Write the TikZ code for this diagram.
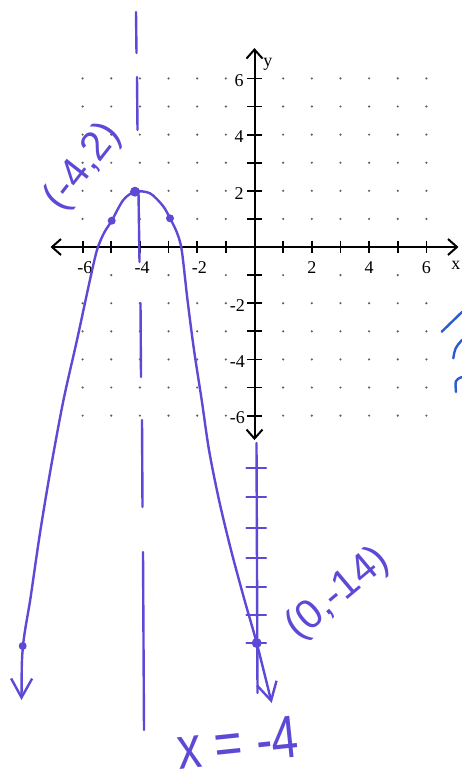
\documentclass[tikz,border=0pt]{standalone}
\usepackage{fontspec}
\setmainfont{Liberation Serif}
\newfontfamily\handfont{Liberation Sans}
\usetikzlibrary{arrows.meta}
\definecolor{pen}{RGB}{92,74,214}
\definecolor{pentwo}{RGB}{45,90,210}
\definecolor{dotgray}{RGB}{95,95,95}
\begin{document}
\begin{tikzpicture}[x=1pt,y=-1pt,
  axisline/.style={line width=2pt, black, {Straight Barb[length=9pt,width=16pt]}-{Straight Barb[length=9pt,width=16pt]}},
  tickline/.style={line width=1.8pt, black},
  griddot/.style={fill=dotgray},
  numlabel/.style={font=\fontsize{18}{18}\selectfont, inner sep=0pt},
  handline/.style={pen, line width=2.4pt, line cap=round},
  handtext/.style={pen, font=\handfont\fontsize{41}{41}\selectfont, inner sep=0pt},
  handdot/.style={fill=pen}]
\useasboundingbox (0,0) rectangle (462,782);
\fill[white] (0,0) rectangle (462,782);

% ---------- printed graph ----------
\begin{scope}[shift={(254.5,247)}, x=28.65pt, y=28.1pt]
  % dots
  \foreach \i in {-6,-5,-4,-3,-2,-1,1,2,3,4,5,6}
    \foreach \j in {-6,-5,-4,-3,-2,1,2,3,4,5,6}
      \fill[griddot] (\i,\j) circle[radius=1.2pt];
  \foreach \i in {-5,-3,-1,1,3,5}
    \fill[griddot] (\i,-1) circle[radius=1.2pt];
  % axes
  \coordinate (xl) at (-7.12,0);
  \coordinate (xr) at (7.12,0);
  \coordinate (yb) at (0,-6.87);
  \coordinate (yt) at (0,7.08);
  \draw[axisline] (xl) -- (xr);
  \draw[axisline] (yb) -- (yt);
  % ticks
  \foreach \i in {-6,-5,-4,-3,-2,-1,1,2,3,4,5,6}
    \draw[tickline] (\i,0.23) -- (\i,-0.23);
  \foreach \j in {-6,-5,-4,-3,-2,-1,1,2,3,4,5,6}
    \draw[tickline] (-0.27,\j) -- (0.27,\j);
  % labels
  \foreach \i in {-6,-4,-2}
    \node[numlabel] (xlab\i) at (\i+0.08,-0.72) {-\the\numexpr-\i\relax};
  \foreach \i in {2,4,6}
    \node[numlabel] (xlab\i) at (\i,-0.72) {\i};
  \foreach \j in {2,4,6}
    \node[numlabel, anchor=east] (ylab\j) at (-0.37,\j-0.08) {\j};
  \foreach \j in {-6,-4,-2}
    \node[numlabel, anchor=east] (ylabm\j) at (-0.33,\j-0.08) {-\the\numexpr-\j\relax};
  \node[numlabel] (xname) at (7.03,-0.64) {x};
  \node[numlabel] (yname) at (0.47,6.5) {y};
\end{scope}

% ---------- hand-drawn parts ----------
% axis of symmetry (broken line)
\draw[handline] (136,12) -- (136.5,53);
\draw[handline] (137,77) -- (137.5,130);
\draw[handline] (138.5,192) -- (139.5,262);
\draw[handline] (140.5,303) -- (141,377);
\draw[handline] (142,420) -- (142.5,507);
\draw[handline] (143,552) -- (144,730);

% extension of the y-axis with ticks
\coordinate (ext0) at (256.5,443);
\coordinate (ext1) at (257.5,693);
\draw[handline] (ext0) -- (ext1);
\foreach \t in {468,497,528,558,587,615,643}
  \draw[handline] (246.5,\t) -- (266,\t);

% parabola
\draw[handline, line join=round,
  {Straight Barb[length=19pt,width=21pt]}-{Straight Barb[length=18pt,width=20pt]}]
  plot[smooth, tension=0.5] coordinates {
   (21.5,700) (23,646) (30.5,598) (40,533) (51,467) (63.5,400) (77,340)
   (89.5,282) (97,250) (104,233) (111.7,220.7) (123.3,200) (135,191.7) (150,193.3)
   (163,206) (170,218.3) (176.7,232) (181.7,250) (187.5,300) (194,350)
   (201.7,400) (209,450) (219,500) (231,550) (244.5,600) (256.7,643)
   (271.7,703)};

% marked points
\fill[handdot] (135,191.7) circle[radius=5pt];
\fill[handdot] (111.7,220.7) circle[radius=4pt];
\fill[handdot] (170,218.3) circle[radius=4pt];
\fill[handdot] (256.7,643) circle[radius=5pt];
\fill[handdot] (22.7,646) circle[radius=4pt];

% handwritten labels
\node[handtext, rotate=52] (vertexlab) at (83,167) {(-4,2)};
\node[handtext, rotate=40] (interlab) at (338,594) {(0,-14)};
\node[handtext, rotate=6, yscale=1.25, transform shape, font=\handfont\fontsize{48}{48}\selectfont] (axislab) at (238,743) {x\;=\;-4};

% partial strokes at right edge
\draw[pentwo, line width=2.4pt, line cap=round] (441.7,331.7) -- (462,312);
\draw[pentwo, line width=2.4pt, line cap=round] (462,340) .. controls (455,348) .. (453.3,358.3);
\draw[pentwo, line width=2.4pt, line cap=round] (462,377) .. controls (455,380) .. (456,392);
\end{tikzpicture}
\end{document}
